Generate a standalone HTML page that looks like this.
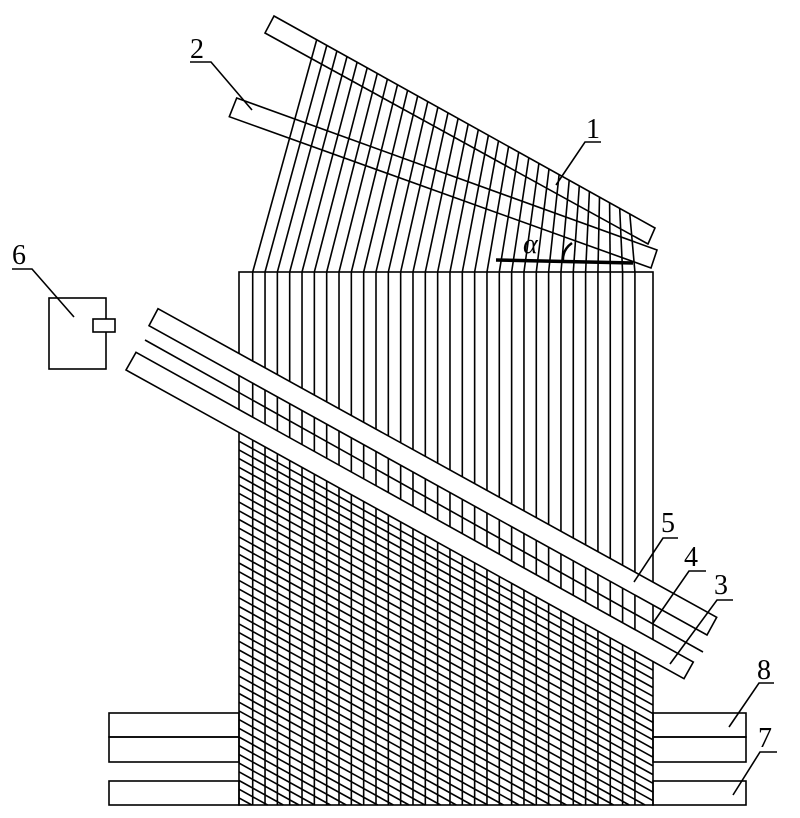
<!DOCTYPE html>
<html><head><meta charset="utf-8"><style>
html,body{margin:0;padding:0;background:#fff;width:800px;height:818px;overflow:hidden;}
svg{display:block;}
text{font-family:"Liberation Serif",serif;font-size:28px;fill:#000;}
</style></head><body>
<svg width="800" height="818" viewBox="0 0 800 818" xmlns="http://www.w3.org/2000/svg">
<g stroke="#000" stroke-width="1.6" fill="none">
<rect x="239" y="272" width="414" height="533"/>
<g id="verts"></g>
<g id="fan"></g>
<g id="hatch"></g>
<polygon points="274,16 655,228 648,244 265,33"/>
<polygon points="236.7,98 657,250 651,268 229.3,116.7"/>
<polygon points="158,308.7 716.7,617.3 707,635 149,325.7" fill="#fff"/>
<line x1="145" y1="340" x2="703" y2="652"/>
<polygon points="136,352.3 693.3,662 684,678.7 126,370" fill="#fff"/>
<rect x="49" y="298" width="57" height="71"/>
<rect x="93" y="319" width="22" height="13" fill="#fff"/>
<rect x="109" y="713" width="130" height="24"/>
<rect x="109" y="737" width="130" height="25"/>
<rect x="109" y="781" width="130" height="24"/>
<rect x="653" y="713" width="93" height="24"/>
<rect x="653" y="737" width="93" height="25"/>
<rect x="653" y="781" width="93" height="24"/>
<line x1="496" y1="260" x2="633" y2="263" stroke-width="3.5"/>
<path d="M572,243 Q562,250 563,262" stroke-width="2.5"/>
<polyline points="190,62 211,62 252,110"/>
<polyline points="601,142 585,142 556,185"/>
<polyline points="12,269 32,269 74,317"/>
<polyline points="678,538 663,538 634,582"/>
<polyline points="706,571 689,571 653,623"/>
<polyline points="733,600 717,600 670,664"/>
<polyline points="774,683 759,683 729,727"/>
<polyline points="777,752 760,752 733,795"/>
</g>
<text x="190" y="58">2</text>
<text x="586" y="138">1</text>
<text x="12" y="264">6</text>
<text x="661" y="532">5</text>
<text x="684" y="566">4</text>
<text x="714" y="594">3</text>
<text x="757" y="679">8</text>
<text x="758" y="747">7</text>
<text x="523" y="253" style="font-style:italic">α</text>
<script>
var ns="http://www.w3.org/2000/svg";
function L(g,x1,y1,x2,y2){var l=document.createElementNS(ns,"line");l.setAttribute("x1",x1);l.setAttribute("y1",y1);l.setAttribute("x2",x2);l.setAttribute("y2",y2);document.getElementById(g).appendChild(l);}
for(var i=0;i<32;i++){
  var xb=252.7+12.33*i;
  L("verts",xb,272,xb,805);
  var xt=316.7+10.1*i, yt=16+(xt-274)*0.5564;
  L("fan",xb,272,xt,yt);
}
var s=0.5532;
for(var k=1;k<43;k++){
  var c=432.5+8.7*k;
  if(c>=805)break;
  var x2=Math.min(653,239+(805-c)/s);
  var y2=c+(x2-239)*s;
  L("hatch",239,c,x2,y2);
}
</script>
</svg>
</body></html>
